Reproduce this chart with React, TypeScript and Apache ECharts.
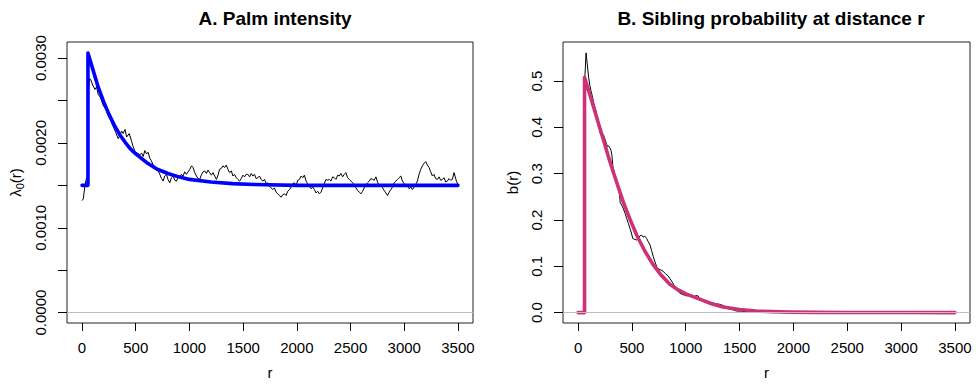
import React, { useEffect, useRef } from "react";
import * as echarts from "echarts";

const FONT = "'Liberation Sans', Arial, Helvetica, sans-serif";

const xTicks = [0, 500, 1000, 1500, 2000, 2500, 3000, 3500];
const palmYTicks = [0, 0.0005, 0.001, 0.0015, 0.002, 0.0025, 0.003];
const palmYLabels = [0, 0.001, 0.002, 0.003];
const sibYTicks = [0, 0.1, 0.2, 0.3, 0.4, 0.5];
const palmRefLevels = [0, 0.0015];
const sibRefLevels = [0];

// Panel A: empirical Palm intensity (black)
const palmObserved: number[][] = [
  [0, 0.00132], [12, 0.00134], [28, 0.00151], [43, 0.00159], [55, 0.0016], [62, 0.00262], [70, 0.00276],
  [80, 0.00275], [100, 0.00268], [121, 0.00263], [135, 0.00266], [151, 0.00257], [170, 0.00254],
  [198, 0.00244], [220, 0.0024], [244, 0.00232], [265, 0.00227], [291, 0.00219], [315, 0.00212],
  [337, 0.00205], [353, 0.00209], [368, 0.00214], [383, 0.00211], [400, 0.00216], [415, 0.00207],
  [439, 0.00211], [461, 0.00202], [475, 0.00196], [492, 0.0019], [515, 0.00188], [538, 0.00186],
  [555, 0.00188], [569, 0.00184], [585, 0.00191], [600, 0.00187], [615, 0.00189], [631, 0.00182],
  [645, 0.00179], [662, 0.00174], [680, 0.00172], [699, 0.00169], [710, 0.00167], [724, 0.00163],
  [740, 0.00158], [755, 0.00155], [770, 0.00161], [786, 0.00163], [800, 0.00157], [817, 0.00153],
  [832, 0.00159], [848, 0.00161], [864, 0.00156], [879, 0.00155], [895, 0.0016], [910, 0.00159],
  [925, 0.00163], [941, 0.00161], [956, 0.00166], [972, 0.00163], [988, 0.00166], [1003, 0.00169],
  [1020, 0.00173], [1034, 0.00171], [1049, 0.00165], [1065, 0.00161], [1080, 0.00158], [1096, 0.00157],
  [1110, 0.00162], [1127, 0.00166], [1142, 0.00167], [1158, 0.00164], [1173, 0.00168], [1188, 0.00165],
  [1204, 0.00162], [1219, 0.00165], [1235, 0.00161], [1251, 0.00157], [1266, 0.00162], [1281, 0.00169],
  [1297, 0.0017], [1312, 0.00173], [1328, 0.00171], [1343, 0.00174], [1358, 0.00169], [1374, 0.00165],
  [1390, 0.00167], [1405, 0.00161], [1420, 0.00163], [1436, 0.00159], [1451, 0.00157], [1467, 0.00155],
  [1482, 0.00158], [1498, 0.00162], [1513, 0.0016], [1529, 0.00163], [1544, 0.00163], [1560, 0.0016],
  [1575, 0.00164], [1590, 0.00161], [1606, 0.00163], [1621, 0.00158], [1637, 0.00159], [1652, 0.00161],
  [1668, 0.00157], [1683, 0.00155], [1699, 0.00157], [1715, 0.00152], [1730, 0.00153], [1745, 0.00149],
  [1760, 0.00147], [1776, 0.00145], [1791, 0.00147], [1807, 0.00142], [1823, 0.0014], [1838, 0.00138],
  [1854, 0.00136], [1869, 0.00139], [1885, 0.0014], [1900, 0.00138], [1915, 0.00143], [1931, 0.00145],
  [1947, 0.00148], [1962, 0.00152], [1978, 0.00153], [1993, 0.0015], [2009, 0.00156], [2024, 0.00157],
  [2040, 0.00161], [2055, 0.00159], [2070, 0.00162], [2086, 0.00155], [2101, 0.00152], [2117, 0.00149],
  [2132, 0.00146], [2148, 0.00148], [2163, 0.00145], [2179, 0.00141], [2194, 0.00143], [2210, 0.0014],
  [2225, 0.00142], [2240, 0.00147], [2256, 0.00152], [2271, 0.00157], [2287, 0.00156], [2302, 0.00157],
  [2318, 0.00155], [2333, 0.0016], [2349, 0.00159], [2364, 0.00157], [2380, 0.00162], [2395, 0.00161],
  [2410, 0.00164], [2426, 0.0016], [2442, 0.00163], [2457, 0.00165], [2472, 0.00159], [2488, 0.00157],
  [2504, 0.00155], [2519, 0.00153], [2535, 0.0015], [2550, 0.00147], [2566, 0.00144], [2581, 0.00142],
  [2597, 0.0014], [2612, 0.00143], [2627, 0.00147], [2643, 0.00151], [2658, 0.00153], [2674, 0.00155],
  [2690, 0.00158], [2705, 0.00157], [2720, 0.00156], [2736, 0.0016], [2751, 0.00154], [2767, 0.00149],
  [2782, 0.00151], [2798, 0.00147], [2813, 0.00144], [2829, 0.00141], [2844, 0.00138], [2860, 0.00142],
  [2875, 0.00145], [2891, 0.00148], [2906, 0.00153], [2922, 0.00155], [2937, 0.00157], [2952, 0.00159],
  [2968, 0.00161], [2983, 0.00155], [2999, 0.00152], [3015, 0.0015], [3030, 0.00149], [3045, 0.00146],
  [3061, 0.00148], [3076, 0.00145], [3092, 0.00148], [3107, 0.00151], [3122, 0.00155], [3138, 0.00163],
  [3154, 0.00169], [3169, 0.00173], [3185, 0.00176], [3200, 0.00178], [3215, 0.00174], [3231, 0.00171],
  [3246, 0.00166], [3262, 0.00161], [3277, 0.00163], [3292, 0.00158], [3308, 0.00157], [3324, 0.0016],
  [3339, 0.00156], [3355, 0.00157], [3370, 0.00159], [3386, 0.00154], [3401, 0.00155], [3417, 0.00158],
  [3432, 0.00156], [3448, 0.00157], [3463, 0.00165], [3475, 0.0016], [3485, 0.00155], [3500, 0.00151],
];

// Panel A: fitted Palm intensity (blue)
const palmFitted: number[][] = [
  [0, 0.0015], [55, 0.0015], [55, 0.00306], [100, 0.00287], [150, 0.00266], [200, 0.00249],
  [250, 0.00234], [300, 0.00221], [350, 0.0021], [400, 0.00201], [450, 0.00193], [500, 0.00187],
  [600, 0.00177], [700, 0.00169], [800, 0.00164], [900, 0.0016], [1000, 0.00157], [1200, 0.00154],
  [1400, 0.00152], [1600, 0.00151], [2000, 0.0015], [3500, 0.0015],
];

// Panel B: empirical sibling probability (black)
const sibObserved: number[][] = [
  [62, 0.505], [68, 0.53], [74, 0.561], [86, 0.535], [98, 0.508], [110, 0.49], [120, 0.479],
  [132, 0.468], [144, 0.454], [156, 0.444], [169, 0.433], [180, 0.418], [190, 0.405], [206, 0.387],
  [220, 0.386], [236, 0.384], [252, 0.373], [262, 0.366], [273, 0.359], [283, 0.36], [298, 0.355],
  [306, 0.35], [314, 0.341], [323, 0.316], [334, 0.305], [344, 0.295], [360, 0.285], [375, 0.274],
  [385, 0.255], [391, 0.238], [405, 0.232], [421, 0.224], [437, 0.214], [452, 0.203], [468, 0.192],
  [483, 0.181], [495, 0.172], [508, 0.16], [525, 0.158], [545, 0.157], [560, 0.16], [575, 0.166],
  [591, 0.167], [605, 0.163], [620, 0.165], [637, 0.16], [652, 0.153], [668, 0.146], [683, 0.134],
  [698, 0.121], [715, 0.109], [735, 0.096], [750, 0.094], [770, 0.092], [790, 0.089], [812, 0.084],
  [837, 0.079], [852, 0.074], [868, 0.068], [890, 0.06], [914, 0.05], [935, 0.044], [960, 0.04],
  [985, 0.038], [1006, 0.036], [1037, 0.038], [1068, 0.033], [1099, 0.037], [1114, 0.036],
  [1130, 0.03], [1160, 0.026], [1190, 0.025], [1222, 0.023], [1250, 0.021], [1283, 0.019],
  [1315, 0.018], [1345, 0.0155], [1375, 0.012], [1407, 0.007], [1440, 0.006], [1468, 0.0034],
  [1520, 0.003], [1576, 0.0013], [1650, 0.0015], [1750, 0.0008], [1900, 0.0005], [2100, 0.0003],
  [2500, 0.0001], [3000, 0], [3500, 0],
];

// Panel B: fitted sibling probability (magenta)
const sibFitted: number[][] = [
  [0, 0], [60, 0], [60, 0.508], [100, 0.478], [144, 0.444], [190, 0.408], [236, 0.373], [280, 0.338],
  [329, 0.302], [375, 0.27], [421, 0.238], [480, 0.203], [545, 0.167], [620, 0.133], [698, 0.103],
  [775, 0.08], [852, 0.061], [930, 0.049], [1006, 0.04], [1129, 0.029], [1240, 0.019], [1345, 0.012],
  [1500, 0.0065], [1653, 0.0034], [1800, 0.002], [1960, 0.001], [2200, 0.0005], [2500, 0.0002],
  [3000, 0.0001], [3500, 0],
];

export default function App() {
  const ref = useRef<HTMLDivElement>(null);
  useEffect(() => {
    document.body.style.margin = "0";
    const chart = echarts.init(ref.current!, null, { renderer: "svg" });
    const tickStyle = { color: "#000", width: 1 };
    const xAxisCommon = (gridIndex: number) => ({
      type: "value",
      gridIndex,
      min: -140,
      max: 3640,
      name: "r",
      nameLocation: "middle",
      nameGap: 42,
      nameTextStyle: { fontSize: 15, fontFamily: FONT, color: "#000" },
      splitLine: { show: false },
      axisLine: { show: false, onZero: false },
      axisTick: { show: true, length: 8, lineStyle: tickStyle, customValues: xTicks },
      axisLabel: {
        customValues: xTicks,
        fontSize: 15,
        fontFamily: FONT,
        color: "#000",
        margin: 17,
        formatter: (v: number) => String(v),
      },
    });
    const refLines = (levels: number[], xi: number) => ({
      type: "line",
      xAxisIndex: xi,
      yAxisIndex: xi,
      data: [],
      silent: true,
      z: 1,
      markLine: {
        silent: true,
        symbol: "none",
        label: { show: false },
        lineStyle: { color: "#bebebe", type: "solid", width: 1 },
        data: levels.map((v) => ({ yAxis: v })),
        animation: false,
      },
    });
    chart.setOption({
      animation: false,
      title: [
        {
          text: "A. Palm intensity",
          left: 270,
          top: 4,
          textAlign: "center",
          textStyle: { fontSize: 19, fontWeight: "bold", fontFamily: FONT, color: "#000" },
        },
        {
          text: "B. Sibling probability at distance r",
          left: 766,
          top: 4,
          textAlign: "center",
          textStyle: { fontSize: 19, fontWeight: "bold", fontFamily: FONT, color: "#000" },
        },
      ],
      grid: [
        { left: 67, top: 42, width: 406, height: 287, show: true, borderColor: "#222", borderWidth: 1 },
        { left: 563, top: 42, width: 407, height: 287, show: true, borderColor: "#222", borderWidth: 1 },
      ],
      xAxis: [xAxisCommon(0), xAxisCommon(1)],
      yAxis: [
        {
          type: "value",
          gridIndex: 0,
          min: -0.000123,
          max: 0.00319,
          name: "{l|λ}{s|0}{l|(r)}",
          nameLocation: "middle",
          nameGap: 42,
          nameRotate: 90,
          nameTextStyle: {
            fontFamily: FONT,
            color: "#000",
            rich: {
              l: { fontSize: 15, fontFamily: FONT, color: "#000", lineHeight: 20 },
              s: { fontSize: 11, fontFamily: FONT, color: "#000", lineHeight: 20, verticalAlign: "bottom", padding: [6, 0, 0, 0] },
            },
          },
          splitLine: { show: false },
          axisLine: { show: false, onZero: false },
          axisTick: { show: true, length: 9, lineStyle: tickStyle, customValues: palmYTicks },
          axisLabel: {
            customValues: palmYLabels,
            rotate: 90,
            fontSize: 15,
            fontFamily: FONT,
            color: "#000",
            margin: 19,
            formatter: (v: number) => v.toFixed(4),
          },
        },
        {
          type: "value",
          gridIndex: 1,
          min: -0.0225,
          max: 0.5845,
          name: "b(r)",
          nameLocation: "middle",
          nameGap: 43,
          nameRotate: 90,
          nameTextStyle: { fontSize: 15, fontFamily: FONT, color: "#000" },
          splitLine: { show: false },
          axisLine: { show: false, onZero: false },
          axisTick: { show: true, length: 9, lineStyle: tickStyle, customValues: sibYTicks },
          axisLabel: {
            customValues: sibYTicks,
            rotate: 90,
            fontSize: 15,
            fontFamily: FONT,
            color: "#000",
            margin: 19,
            formatter: (v: number) => v.toFixed(1),
          },
        },
      ],
      series: [
        refLines(palmRefLevels, 0),
        refLines(sibRefLevels, 1),
        {
          type: "line",
          xAxisIndex: 0,
          yAxisIndex: 0,
          data: palmObserved,
          showSymbol: false,
          z: 2,
          lineStyle: { color: "#000", width: 1 },
        },
        {
          type: "line",
          xAxisIndex: 0,
          yAxisIndex: 0,
          data: palmFitted,
          showSymbol: false,
          z: 3,
          lineStyle: { color: "#0000ff", width: 3.6, cap: "round", join: "round" },
        },
        {
          type: "line",
          xAxisIndex: 1,
          yAxisIndex: 1,
          data: sibObserved,
          showSymbol: false,
          z: 2,
          lineStyle: { color: "#000", width: 1 },
        },
        {
          type: "line",
          xAxisIndex: 1,
          yAxisIndex: 1,
          data: sibFitted,
          showSymbol: false,
          z: 3,
          lineStyle: { color: "#cd3278", width: 3.6, cap: "round", join: "round" },
        },
      ],
    });
    return () => chart.dispose();
  }, []);
  return <div ref={ref} style={{ width: 976, height: 385 }} />;
}
